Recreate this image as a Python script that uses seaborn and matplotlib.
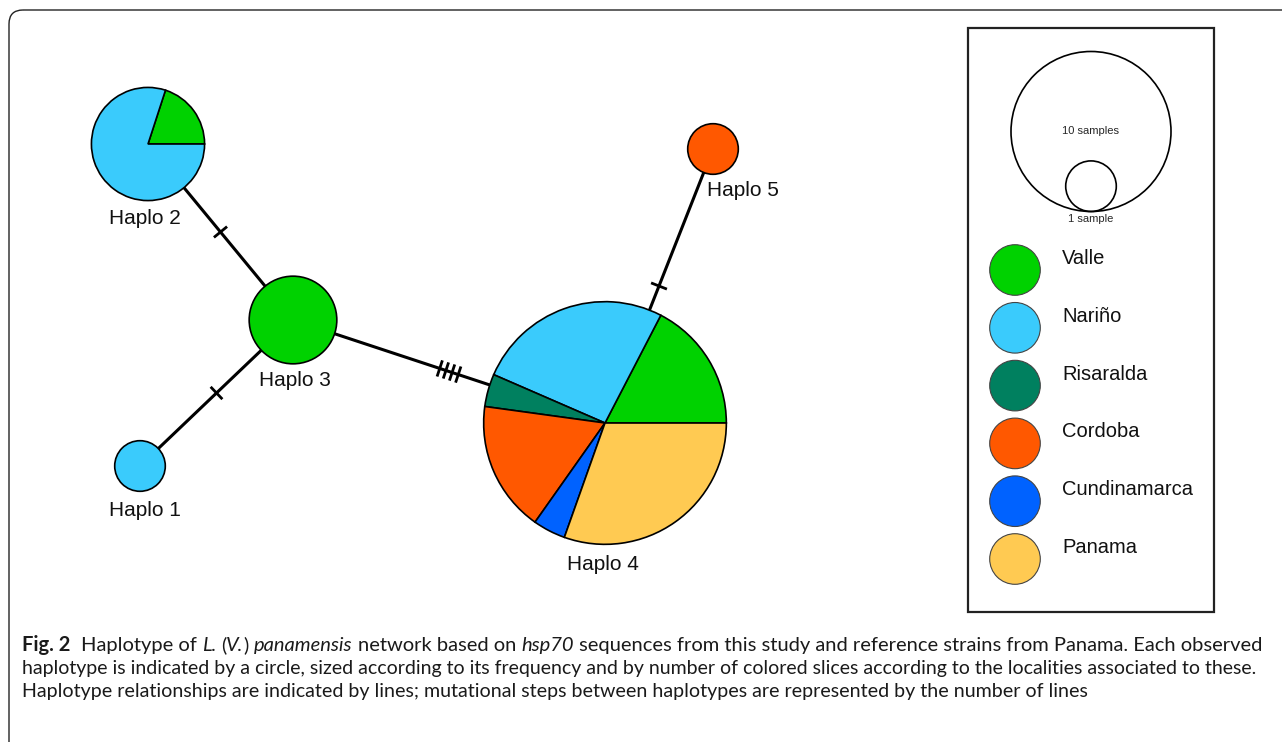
import numpy as np
import seaborn as sns
import matplotlib.pyplot as plt
from matplotlib.patches import Wedge, Circle, FancyBboxPatch, Rectangle

sns.set_theme(style="white")
plt.rcParams['font.family'] = ['Liberation Sans', 'DejaVu Sans']

# localities (slice order) and their colours
localities = ['Valle', 'Nariño', 'Risaralda', 'Cordoba', 'Cundinamarca', 'Panama']
loc_colors = ['#00d200', '#3acbfc', '#00805f', '#ff5800', '#0062ff', '#ffca52']

# haplotypes and number of samples per locality (same order as localities)
haplotypes = ['Haplo 1', 'Haplo 2', 'Haplo 3', 'Haplo 4', 'Haplo 5']
counts = [
    [0, 1, 0, 0, 0, 0],
    [1, 4, 0, 0, 0, 0],
    [3, 0, 0, 0, 0, 0],
    [4, 6, 1, 4, 1, 7],
    [0, 0, 0, 1, 0, 0],
]

# network links and mutational steps on each
links = [('Haplo 2', 'Haplo 3'), ('Haplo 1', 'Haplo 3'),
         ('Haplo 3', 'Haplo 4'), ('Haplo 4', 'Haplo 5')]
steps = [1, 1, 4, 1]

# size key
key_samples = [10, 1]
key_labels = ['10 samples', '1 sample']

caption = [
    [("Fig. 2", "b"), ("  Haplotype of ", "n"), ("L.", "i"), (" (", "n"), ("V.", "i"),
     (") ", "n"), ("panamensis", "i"), (" network based on ", "n"), ("hsp70", "i"),
     (" sequences from this study and reference strains from Panama. Each observed", "n")],
    [("haplotype is indicated by a circle, sized according to its frequency and by number "
      "of colored slices according to the localities associated to these.", "n")],
    [("Haplotype relationships are indicated by lines; mutational steps between haplotypes "
      "are represented by the number of lines", "n")],
]
caption_widths = [1241, 1231, 1058]  # measured line lengths in the reference

# ---- layout (pixel space) ----
W, H = 1282, 742
node_xy = {'Haplo 1': (140, 466), 'Haplo 2': (148, 144), 'Haplo 3': (293, 320),
           'Haplo 4': (605, 423), 'Haplo 5': (713, 149)}
label_xy = {'Haplo 1': (145, 510), 'Haplo 2': (145, 218), 'Haplo 3': (295, 380),
            'Haplo 4': (603, 564), 'Haplo 5': (743, 190)}
r_unit = 25.3  # radius of a 1-sample circle

fig = plt.figure(figsize=(W / 100, H / 100), dpi=100)
ax = fig.add_axes([0, 0, 1, 1])
ax.set_xlim(0, W)
ax.set_ylim(H, 0)
ax.set_axis_off()

# outer frame
ax.add_patch(FancyBboxPatch((9, 10), W + 40, H + 40, boxstyle="round,pad=0,rounding_size=14",
                            fill=False, ec='#222222', lw=1.0))

# links with mutation ticks
for (a, b), n in zip(links, steps):
    (x1, y1), (x2, y2) = node_xy[a], node_xy[b]
    ax.plot([x1, x2], [y1, y2], color='black', lw=2.2, zorder=1, solid_capstyle='butt')
    d = np.array([x2 - x1, y2 - y1], float)
    d /= np.hypot(*d)
    p = np.array([-d[1], d[0]])
    mid = np.array([(x1 + x2) / 2, (y1 + y2) / 2])
    for k in range(n):
        c = mid + d * (k - (n - 1) / 2) * 6.5
        ax.plot([c[0] - 8.5 * p[0], c[0] + 8.5 * p[0]], [c[1] - 8.5 * p[1], c[1] + 8.5 * p[1]],
                color='black', lw=2.0, zorder=1, solid_capstyle='butt')

# pie nodes (angles negative because y axis is inverted)
for name, row in zip(haplotypes, counts):
    cx, cy = node_xy[name]
    total = sum(row)
    r = r_unit * np.sqrt(total)
    start = 0.0
    for v, col in zip(row, loc_colors):
        if v == 0:
            continue
        ang = 360.0 * v / total
        if v == total:
            ax.add_patch(Circle((cx, cy), r, fc=col, ec='black', lw=1.2, zorder=2))
        else:
            ax.add_patch(Wedge((cx, cy), r, -(start + ang), -start, fc=col, ec='black',
                               lw=1.2, zorder=2))
        start += ang
    lx, ly = label_xy[name]
    ax.text(lx, ly, name, ha='center', va='center', fontsize=15, color='#111111', zorder=3)

# legend box
ax.add_patch(Rectangle((968, 28), 246, 584, fill=False, ec='#222222', lw=1.6))
kx, kbottom = 1091, 211.5
for n, lab in zip(key_samples, key_labels):
    r = r_unit * np.sqrt(n)
    ax.add_patch(Circle((kx, kbottom - r), r, fill=False, ec='black', lw=1.2))
ax.text(kx, kbottom - r_unit * np.sqrt(key_samples[0]), key_labels[0], ha='center',
        va='center', fontsize=8)
ax.text(kx, kbottom + 7, key_labels[1], ha='center', va='center', fontsize=8)

for i, (loc, col) in enumerate(zip(localities, loc_colors)):
    cy = 270 + i * 57.8
    ax.add_patch(Circle((1015, cy), r_unit, fc=col, ec='#444444', lw=0.8))
    ax.text(1062, cy - 6, loc, ha='left', va='baseline', fontsize=14.5, color='#111111')

# caption with mixed styles
renderer = fig.canvas.get_renderer()
cap_font = ['Lato', 'DejaVu Sans']
styles = {'n': dict(), 'b': dict(fontweight='bold'), 'i': dict(fontstyle='italic')}


def draw_line(runs, x0, y, size, draw=True):
    probe = ax.text(0, 0, 'a a', fontsize=size, family=cap_font)
    probe2 = ax.text(0, 0, 'aa', fontsize=size, family=cap_font)
    sp = probe.get_window_extent(renderer).width - probe2.get_window_extent(renderer).width
    probe.remove()
    probe2.remove()
    x = x0
    for s, st in runs:
        lead = len(s) - len(s.lstrip(' '))
        trail = len(s) - len(s.rstrip(' '))
        x += lead * sp
        t = ax.text(x, y, s.strip(' '), fontsize=size, family=cap_font, color='#1a1a1a',
                    ha='left', va='baseline', **styles[st])
        x += t.get_window_extent(renderer).width
        if not draw:
            t.remove()
        x += trail * sp
    return x - x0


for j, (line, target) in enumerate(zip(caption, caption_widths)):
    w0 = draw_line(line, 0, 0, 12, draw=False)
    draw_line(line, 22, 651 + 23 * j, 12 * target / w0)

fig.savefig('out.png', dpi=100)
